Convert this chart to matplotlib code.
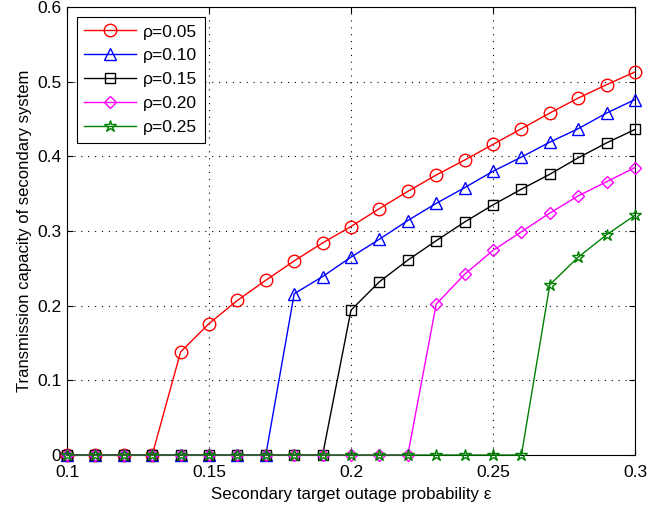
import matplotlib
matplotlib.use("Agg")
import matplotlib.pyplot as plt
import numpy as np

plt.rcParams['font.family'] = ['Liberation Sans', 'DejaVu Sans']

eps = [0.10, 0.11, 0.12, 0.13, 0.14, 0.15, 0.16, 0.17, 0.18, 0.19, 0.20,
       0.21, 0.22, 0.23, 0.24, 0.25, 0.26, 0.27, 0.28, 0.29, 0.30]

cap_005 = [0, 0, 0, 0, 0.138, 0.176, 0.207, 0.234, 0.260, 0.284, 0.306,
           0.330, 0.353, 0.375, 0.395, 0.416, 0.437, 0.458, 0.478, 0.496, 0.513]
cap_010 = [0, 0, 0, 0, 0, 0, 0, 0, 0.216, 0.239, 0.265,
           0.289, 0.314, 0.337, 0.358, 0.380, 0.399, 0.419, 0.437, 0.458, 0.476]
cap_015 = [0, 0, 0, 0, 0, 0, 0, 0, 0, 0, 0.194,
           0.232, 0.261, 0.287, 0.312, 0.335, 0.356, 0.376, 0.398, 0.418, 0.436]
cap_020 = [0, 0, 0, 0, 0, 0, 0, 0, 0, 0, 0,
           0, 0, 0.202, 0.242, 0.274, 0.299, 0.324, 0.347, 0.366, 0.385]
cap_025 = [0, 0, 0, 0, 0, 0, 0, 0, 0, 0, 0,
           0, 0, 0, 0, 0, 0, 0.228, 0.265, 0.295, 0.321]

labels = ['ρ=0.05', 'ρ=0.10', 'ρ=0.15', 'ρ=0.20', 'ρ=0.25']
series = [cap_005, cap_010, cap_015, cap_020, cap_025]
colors = ['#ff0000', '#0000ff', '#000000', '#ff00ff', '#008000']
markers = ['o', '^', 's', 'D', '*']
msizes = [9, 9, 7, 6.5, 9]

fig = plt.figure(figsize=(6.66, 5.05), dpi=100)
ax = fig.add_axes([67/666, 1-455/505, (635-67)/666, (455-7)/505])

for y, lab, c, m, ms in zip(series, labels, colors, markers, msizes):
    ax.plot(eps, y, color=c, marker=m, markersize=ms,
            markerfacecolor='none', markeredgecolor=c, markeredgewidth=1.0,
            linewidth=1.0, label=lab, clip_on=False, zorder=3)

ax.set_xlim(0.1, 0.3)
ax.set_ylim(0, 0.6)
ax.set_xticks([0.1, 0.15, 0.2, 0.25, 0.3])
ax.set_xticklabels(['0.1', '0.15', '0.2', '0.25', '0.3'])
ax.set_yticks([0, 0.1, 0.2, 0.3, 0.4, 0.5, 0.6])
ax.set_yticklabels(['0', '0.1', '0.2', '0.3', '0.4', '0.5', '0.6'])
ax.tick_params(direction='in', top=True, right=True, labelsize=12.5, length=4)
ax.tick_params(axis='x', pad=7)
ax.tick_params(axis='y', pad=4)
ax.grid(True, color='black', linestyle=(0, (1, 5.2)), linewidth=0.8)
ax.set_axisbelow(True)
for s in ax.spines.values():
    s.set_linewidth(0.8)
    s.set_zorder(2.5)

ax.set_xlabel('Secondary target outage probability ε', fontsize=12.2, labelpad=5)
ax.set_ylabel('Transmission capacity of secondary system', fontsize=12, labelpad=4)

leg = ax.legend(loc='upper left', fontsize=12.5, fancybox=False, framealpha=1,
                edgecolor='black', handlelength=3.0, borderpad=0.45,
                labelspacing=0.5, handletextpad=0.35, borderaxespad=0.55)
leg.get_frame().set_linewidth(0.8)
leg.set_zorder(5)

fig.savefig('out.png', dpi=100)
